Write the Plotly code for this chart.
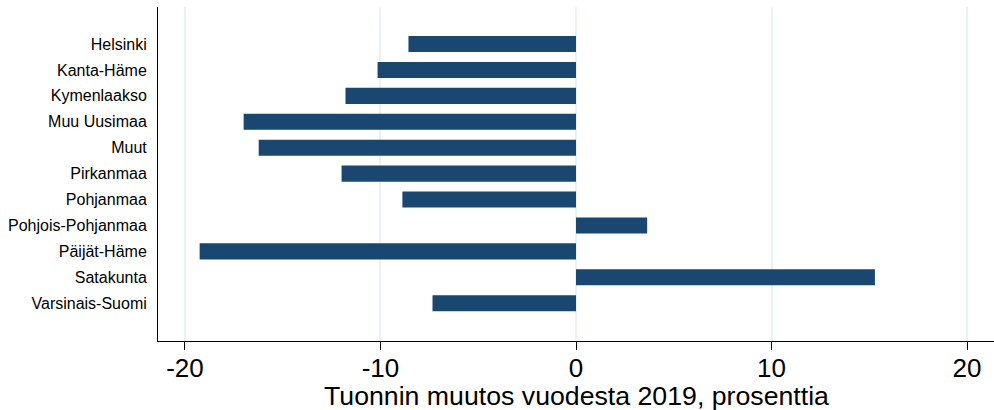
import plotly.graph_objects as go

regions = ["Helsinki", "Kanta-Häme", "Kymenlaakso", "Muu Uusimaa", "Muut",
           "Pirkanmaa", "Pohjanmaa", "Pohjois-Pohjanmaa", "Päijät-Häme",
           "Satakunta", "Varsinais-Suomi"]
change_pct = [-8.57, -10.15, -11.79, -17.0, -16.23, -11.99, -8.88, 3.64,
              -19.25, 15.29, -7.34]
x_ticks = [-20, -10, 0, 10, 20]
x_title = "Tuonnin muutos vuodesta 2019, prosenttia"

fig = go.Figure(go.Bar(
    x=change_pct, y=regions, orientation="h",
    marker=dict(color="#1a476f", line=dict(width=0)),
    width=0.62,
))

fig.update_layout(
    width=994, height=410,
    margin=dict(l=158, r=0, t=7, b=69, autoexpand=False),
    paper_bgcolor="white", plot_bgcolor="white",
    font=dict(family="Liberation Sans, Arial, sans-serif", color="black"),
    showlegend=False,
    annotations=[dict(text=x_title, xref="paper", yref="paper",
                      x=0.5, y=-0.165, xanchor="center", yanchor="middle",
                      showarrow=False, font=dict(size=26.7))],
)
fig.update_xaxes(
    range=[-21.38, 21.38],
    tickvals=x_ticks, ticktext=[str(v) for v in x_ticks],
    tickfont=dict(size=26),
    ticks="outside", ticklen=8, tickcolor="black", tickwidth=1,
    ticklabelstandoff=-4,
    showline=True, linecolor="black", linewidth=1,
    showgrid=True, gridcolor="#eaf2f3", gridwidth=1.5,
    zeroline=False, automargin=False,
)
fig.update_yaxes(
    categoryorder="array", categoryarray=regions,
    range=[10 + 1.46, -1.43],
    tickfont=dict(size=16),
    ticks="", ticklabelstandoff=7,
    showline=True, linecolor="black", linewidth=1,
    showgrid=False, zeroline=False, automargin=False,
)

fig.write_html("out.html", config={"displayModeBar": False},
               post_script="document.body.style.margin='0';document.body.style.padding='0';")
